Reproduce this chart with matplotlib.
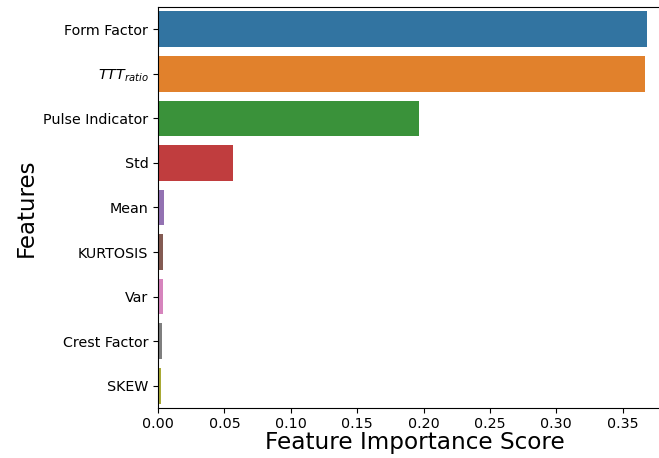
import matplotlib
matplotlib.use('Agg')
import matplotlib.pyplot as plt
import seaborn as sns
import pandas as pd

# feature importance values
features = ['Form Factor', r'$TTT_{ratio}$', 'Pulse Indicator', 'Std', 'Mean',
            'KURTOSIS', 'Var', 'Crest Factor', 'SKEW']
scores = [0.368, 0.3665, 0.1966, 0.0565, 0.0045, 0.0040, 0.0035, 0.0028, 0.0022]

df = pd.DataFrame({'Feature': features, 'Score': scores})

fig = plt.figure(figsize=(6.59, 4.58), dpi=100)
# axes runs past the right edge of the picture, as in the reference crop
ax = fig.add_axes([158 / 659, 50 / 458, 513 / 659, 401 / 458])

sns.barplot(data=df, x='Score', y='Feature', hue='Feature', palette='tab10',
            legend=False, ax=ax)

ax.set_xlabel('Feature Importance Score', fontsize=16.7, labelpad=0)
ax.set_ylabel('Features', fontsize=16.5)
ax.tick_params(axis='both', labelsize=10.3)
ax.tick_params(axis='x', pad=3)
ax.set_xticks([0, 0.05, 0.1, 0.15, 0.2, 0.25, 0.3, 0.35])
ax.set_xticklabels(['0.00', '0.05', '0.10', '0.15', '0.20', '0.25', '0.30', '0.35'])
ax.set_xlim(0, 0.3864)

fig.savefig('out.png', dpi=100)
